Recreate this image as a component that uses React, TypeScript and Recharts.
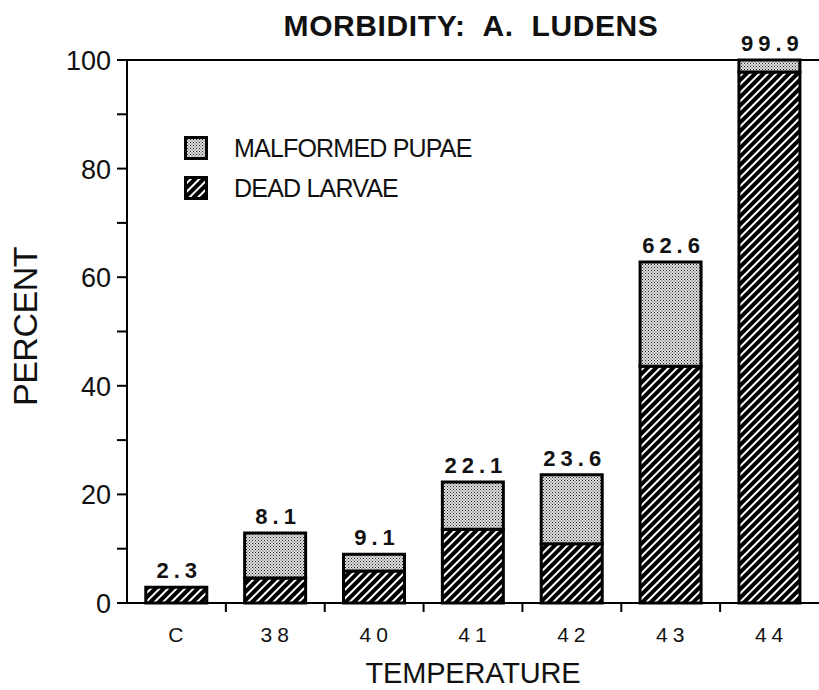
import React from "react";
import { BarChart, Bar, XAxis, YAxis, ReferenceLine, LabelList } from "recharts";

const categories = ["C", "38", "40", "41", "42", "43", "44"];
const deadLarvae = [2.9, 4.6, 5.9, 13.6, 10.9, 43.6, 97.8];
const malformedPupae = [0, 8.3, 3.1, 8.7, 12.7, 19.2, 2.2];
const totalLabels = ["2.3", "8.1", "9.1", "22.1", "23.6", "62.6", "99.9"];
const yTicks = [0, 10, 20, 30, 40, 50, 60, 70, 80, 90, 100];
const legendItems = [
  { name: "MALFORMED PUPAE", fill: "url(#dots)" },
  { name: "DEAD LARVAE", fill: "url(#hatch)" },
];

const data = categories.map((c, i) => ({
  cat: c,
  dead: deadLarvae[i],
  malformed: malformedPupae[i],
  label: totalLabels[i],
}));

const FONT = "'Liberation Sans', Arial, sans-serif";

const XTick = (props: any) => {
  const { x, y, payload } = props;
  const half = payload && payload.offset ? payload.offset : 49.4;
  return (
    <g>
      {payload.index > 0 && (
        <line x1={x - half} y1={y - 8} x2={x - half} y2={y + 1} stroke="#000" strokeWidth={2} />
      )}
      <text x={x + 2} y={y + 31} textAnchor="middle" fontFamily={FONT} fontSize={21} letterSpacing={5} fill="#111">
        {payload.value}
      </text>
    </g>
  );
};

const YTick = (props: any) => {
  const { x, y, payload } = props;
  const v = payload.value;
  if (v % 20 !== 0) return null;
  return (
    <text x={x} y={y + 10} textAnchor="end" fontFamily={FONT} fontSize={27} fill="#111">
      {v}
    </text>
  );
};

const TopLabel = (props: any) => {
  const { x, y, width, value } = props;
  if (!value) return null;
  return (
    <text
      x={x + width / 2 + 3}
      y={y - 9}
      textAnchor="middle"
      fontFamily={FONT}
      fontWeight="bold"
      fontSize={22}
      letterSpacing={5}
      fill="#111"
    >
      {value}
    </text>
  );
};

const PercentLabel = (props: any) => {
  const vb = props.viewBox || { x: 0, y: 60, width: 127, height: 543 };
  const cx = 25;
  const cy = vb.y + vb.height / 2 - 5;
  return (
    <text
      x={cx}
      y={cy}
      transform={`rotate(-90, ${cx}, ${cy})`}
      textAnchor="middle"
      dominantBaseline="central"
      fontFamily={FONT}
      fontSize={34}
      letterSpacing={-0.5}
      fill="#111"
    >
      PERCENT
    </text>
  );
};

export default function App() {
  return (
    <div style={{ position: "absolute", left: 0, top: 0, width: 819, height: 690, background: "#fff" }}>
      <svg width={0} height={0} style={{ position: "absolute" }}>
        <defs>
          <pattern id="hatch" width="6" height="6" patternUnits="userSpaceOnUse" patternTransform="rotate(45)">
            <rect width="6" height="6" fill="#000" />
            <rect x="0" y="0" width="2" height="6" fill="#fff" />
          </pattern>
          <pattern id="dots" width="3" height="3" patternUnits="userSpaceOnUse">
            <rect width="3" height="3" fill="#dedede" />
            <rect x="0" y="0" width="1" height="1" fill="#222" />
            <rect x="1.5" y="1.5" width="1" height="1" fill="#444" />
          </pattern>
        </defs>
      </svg>
      <div
        style={{
          position: "absolute",
          left: 0,
          top: 9,
          width: 942,
          textAlign: "center",
          fontFamily: FONT,
          fontWeight: "bold",
          fontSize: 30,
          letterSpacing: 0.6,
          color: "#111",
          whiteSpace: "pre",
          lineHeight: "34px",
        }}
      >
        {"MORBIDITY:  A.  LUDENS"}
      </div>
      <div style={{ position: "absolute", left: 184, top: 128, fontFamily: FONT, fontSize: 25, color: "#111", zIndex: 2 }}>
        {legendItems.map((e) => (
          <div key={e.name} style={{ display: "flex", alignItems: "center", height: 40, letterSpacing: -0.8, whiteSpace: "pre" }}>
            <svg width={24} height={24} style={{ marginRight: 26 }}>
              <rect x={1.5} y={1.5} width={21} height={21} fill={e.fill} stroke="#000" strokeWidth={3} />
            </svg>
            <span>{e.name}</span>
          </div>
        ))}
      </div>
      <BarChart
        width={819}
        height={690}
        data={data}
        margin={{ top: 60, right: 0, bottom: 0, left: 0 }}
        barCategoryGap="19%"
      >
        <XAxis
          dataKey="cat"
          height={87}
          axisLine={{ stroke: "#000", strokeWidth: 2 }}
          tickLine={false}
          tick={<XTick />}
          interval={0}
          label={{ value: "TEMPERATURE", position: "insideBottom", offset: 7, fontFamily: FONT, fontSize: 29, fill: "#111", letterSpacing: -0.2 }}
        />
        <YAxis
          width={127}
          domain={[0, 100]}
          ticks={yTicks}
          interval={0}
          axisLine={{ stroke: "#000", strokeWidth: 2 }}
          tickLine={{ stroke: "#000", strokeWidth: 2 }}
          tickSize={10}
          tickMargin={6}
          tick={<YTick />}
          label={{ position: "insideLeft", content: <PercentLabel /> }}
        />
        <ReferenceLine y={100} stroke="#000" strokeWidth={2} />
        <Bar dataKey="dead" stackId="a" fill="url(#hatch)" stroke="#000" strokeWidth={3} isAnimationActive={false}>
          <LabelList dataKey={(d: any) => (d.malformed === 0 ? d.label : "")} content={<TopLabel />} />
        </Bar>
        <Bar dataKey="malformed" stackId="a" fill="url(#dots)" stroke="#000" strokeWidth={3} isAnimationActive={false}>
          <LabelList dataKey={(d: any) => (d.malformed > 0 ? d.label : "")} content={<TopLabel />} />
        </Bar>
      </BarChart>
    </div>
  );
}
